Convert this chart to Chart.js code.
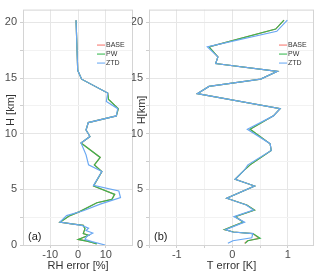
<!DOCTYPE html>
<html>
<head>
<meta charset="utf-8">
<script src="https://cdn.jsdelivr.net/npm/chart.js@4/dist/chart.umd.min.js"></script>
<style>
  body { margin: 0; background: #fff; }
  canvas { position: absolute; top: 0; }
  #chartA { left: 0; }
  #chartB { left: 132px; }
</style>
</head>
<body>
<canvas id="chartA" width="136" height="275"></canvas>
<canvas id="chartB" width="188" height="275"></canvas>
<script>
// DATA - panel (a) RH error [%], heights in km
const hRhBase = [0.1, 0.24, 0.35, 0.5, 0.88, 1.03, 1.47, 1.76, 1.9, 2.05, 2.64, 3.0, 3.8, 4.1, 4.55, 5.3, 6.6, 7.2, 7.87, 9.16, 9.75, 10.33, 11.0, 11.6, 12.25, 13.07, 13.65, 14.9, 15.7, 20.2];
const rhBase  = [6.6, 5.0, 3.2, 0.1, 3.8, 1.9, 2.5, 1.9, -2.3, -6.5, -2.9, 0.6, 6.8, 12.2, 13.2, 5.6, 8.6, 5.9, 8.0, 1.1, 4.3, 2.9, 3.7, 13.8, 14.5, 11.0, 10.7, 1.3, -0.1, -0.7];
const hRhPw   = [0.1, 0.24, 0.35, 0.5, 0.88, 1.03, 1.47, 1.76, 1.9, 2.05, 2.64, 3.0, 3.8, 4.1, 4.55, 5.3, 6.6, 7.2, 7.87, 9.16, 9.75, 10.33, 11.0, 11.6, 12.25, 13.07, 13.65, 14.9, 15.7, 20.2];
const rhPw    = [6.8, 5.0, 3.2, 0.1, 3.8, 1.9, 2.5, 1.9, -2.3, -6.5, -2.9, 0.6, 6.8, 12.2, 13.2, 5.6, 8.6, 5.9, 8.0, 1.1, 4.3, 2.9, 3.7, 13.8, 14.5, 11.0, 10.7, 1.3, -0.1, -0.7];
const hRhZtd  = [0, 0.3, 0.5, 0.8, 1.08, 1.3, 1.5, 1.76, 2.05, 2.64, 3.08, 3.67, 4.26, 4.85, 5.35, 6.6, 7.2, 8.1, 9.16, 9.75, 10.33, 11.0, 11.6, 12.25, 12.9, 13.65, 14.9, 15.7, 20.2];
const rhZtd   = [9.8, 5.0, 2.5, 3.2, 5.3, 2.9, 3.8, 1.3, -6.5, -4.1, 1.9, 8.0, 15.3, 14.7, 5.6, 8.6, 3.8, 2.9, 1.1, 4.3, 2.9, 3.7, 13.8, 14.3, 10.2, 10.7, 1.3, -0.1, -0.7];

// DATA - panel (b) T error [K]
const hTBase = [0.15, 0.38, 0.6, 1.03, 1.17, 1.38, 1.76, 2.05, 2.55, 3.14, 3.6, 4.2, 5.3, 5.9, 6.75, 7.2, 8.5, 9.1, 10.4, 11.6, 12.25, 13.6, 14.25, 14.9, 15.6, 16.3, 16.9, 17.8, 19.4, 20.2];
const tBase  = [0.22, 0.27, 0.48, 0.37, 0.02, -0.14, 0.05, 0.2, 0.05, 0.4, 0.26, -0.1, 0.4, 0.05, 0.22, 0.32, 0.7, 0.68, 0.32, 0.74, 0.86, -0.63, -0.42, 0.51, 0.81, -0.3, -0.26, -0.42, 0.78, 0.93];
const hTPw   = [0.15, 0.38, 0.6, 1.03, 1.17, 1.38, 1.76, 2.05, 2.55, 3.14, 3.6, 4.2, 5.3, 5.9, 6.75, 7.2, 8.5, 9.1, 10.4, 11.6, 12.25, 13.6, 14.25, 14.9, 15.6, 16.3, 16.9, 17.8, 19.4, 20.2];
const tPw    = [0.23, 0.28, 0.5, 0.37, 0.02, -0.14, 0.05, 0.2, 0.05, 0.4, 0.26, -0.1, 0.4, 0.05, 0.22, 0.32, 0.7, 0.68, 0.32, 0.74, 0.86, -0.63, -0.42, 0.51, 0.81, -0.3, -0.26, -0.42, 0.78, 0.93];
const hTZtd  = [0.15, 0.38, 0.65, 1.03, 1.17, 1.38, 1.76, 2.05, 2.55, 3.14, 3.6, 4.2, 5.3, 5.9, 6.75, 7.2, 8.5, 9.1, 10.4, 11.6, 12.25, 13.6, 14.25, 14.9, 15.6, 16.3, 16.9, 17.8, 19.2, 20.2];
const tZtd   = [-0.08, 0.01, 0.35, 0.37, 0.0, -0.12, 0.07, 0.22, 0.03, 0.38, 0.25, -0.1, 0.4, 0.05, 0.22, 0.28, 0.7, 0.68, 0.27, 0.74, 0.86, -0.63, -0.42, 0.51, 0.81, -0.3, -0.26, -0.45, 0.8, 0.99];

const seriesNames = ['BASE', 'PW', 'ZTD'];
const seriesColors = ['#F8766D', '#35b84f', '#6aa8f2'];

const FONT = '"Liberation Sans", Arial, sans-serif';
const GRID_MAJOR = '#e6e6e6';
const GRID_MINOR = '#f2f2f2';

// frame, legend, y title and panel tag drawn by hand
const panelDeco = {
  id: 'panelDeco',
  afterDraw(chart, args, opts) {
    const { ctx, chartArea: a } = chart;
    ctx.save();
    ctx.strokeStyle = '#d4d4d4';
    ctx.lineWidth = 1;
    ctx.strokeRect(a.left + 0.5, a.top + 0.5, a.right - a.left - 1, a.bottom - a.top);

    // legend
    ctx.font = '7px ' + FONT;
    ctx.textBaseline = 'middle';
    seriesNames.forEach((n, i) => {
      const y = a.top + 35.5 + i * 9;
      const x = a.right - opts.legendRight;
      ctx.strokeStyle = seriesColors[i];
      ctx.globalAlpha = 0.7;
      ctx.lineWidth = 1.5;
      ctx.beginPath(); ctx.moveTo(x, y); ctx.lineTo(x + 8, y); ctx.stroke();
      ctx.globalAlpha = 1;
      ctx.fillStyle = '#333';
      ctx.fillText(n, x + 9, y);
    });

    // panel tag
    ctx.font = '11px ' + FONT;
    ctx.fillStyle = '#222';
    ctx.fillText(opts.tag, a.left + 5, a.bottom - 8);

    // y title (sits between the 10 and 15 labels in the original)
    ctx.translate(opts.yTitleX, opts.yTitleY);
    ctx.rotate(-Math.PI / 2);
    ctx.textAlign = 'center';
    ctx.fillStyle = '#333';
    ctx.fillText(opts.yTitle, 0, 0);
    ctx.restore();
  }
};

function toPoints(hs, vs) {
  return hs.map((h, i) => ({ x: vs[i], y: h }));
}

function gridColor(majorStep) {
  return (c) => {
    if (!c.tick) return GRID_MAJOR;
    const v = c.tick.value;
    return Math.abs(v / majorStep - Math.round(v / majorStep)) < 1e-6 ? GRID_MAJOR : GRID_MINOR;
  };
}

function makePanel(id, sets, xMin, xMax, xStep, xLabelStep, xTitle, yTitle, yWidth, pad, tag, legendRight, yTitleX) {
  const datasets = sets.map((pts, i) => ({
    label: seriesNames[i],
    data: pts,
    showLine: true,
    borderColor: seriesColors[i],
    borderWidth: 1.2,
    pointRadius: 0,
    tension: 0,
    order: 3 - i
  }));
  new Chart(document.getElementById(id), {
    type: 'scatter',
    data: { datasets },
    plugins: [panelDeco],
    options: {
      responsive: false,
      animation: false,
      devicePixelRatio: 1,
      layout: { padding: pad },
      plugins: {
        legend: { display: false },
        tooltip: { enabled: false },
        panelDeco: { tag, legendRight, yTitle, yTitleX, yTitleY: 110 }
      },
      scales: {
        x: {
          type: 'linear', min: xMin, max: xMax,
          afterFit: (s) => { s.height = 30; },
          border: { display: false },
          grid: { color: gridColor(xLabelStep), tickLength: 3, tickColor: '#cfcfcf' },
          ticks: {
            stepSize: xStep, includeBounds: false, autoSkip: false, maxRotation: 0, padding: 0,
            color: '#4d4d4d', font: { family: FONT, size: 11 },
            callback: (v) => Math.abs(v / xLabelStep - Math.round(v / xLabelStep)) < 1e-6 ? String(Math.round(v / xLabelStep) * xLabelStep) : ''
          },
          title: { display: true, text: xTitle, color: '#333', font: { family: FONT, size: 11 }, padding: { top: 0, bottom: 2 } }
        },
        y: {
          type: 'linear', min: 0, max: 21.15,
          afterFit: (s) => { s.width = yWidth; },
          border: { display: false },
          grid: { color: gridColor(5), tickLength: 3, tickColor: '#cfcfcf' },
          ticks: {
            stepSize: 2.5, includeBounds: false, autoSkip: false, padding: 3,
            color: '#4d4d4d', font: { family: FONT, size: 11 },
            callback: (v) => (Math.abs(v % 5) < 1e-6 ? String(v) : '')
          },
          title: { display: false }
        }
      }
    }
  });
}

makePanel('chartA',
  [toPoints(hRhBase, rhBase), toPoints(hRhPw, rhPw), toPoints(hRhZtd, rhZtd)],
  -19.8, 19.8, 10, 10, 'RH error [%]', 'H [km]', 23,
  { top: 5, right: 3, left: 0, bottom: 0 }, '(a)', 36, 11);

makePanel('chartB',
  [toPoints(hTBase, tBase), toPoints(hTPw, tPw), toPoints(hTZtd, tZtd)],
  -1.5, 1.47, 0.5, 1, 'T error [K]', 'H[km]', 17,
  { top: 5, right: 6, left: 0, bottom: 0 }, '(b)', 35, 10);
</script>
</body>
</html>
